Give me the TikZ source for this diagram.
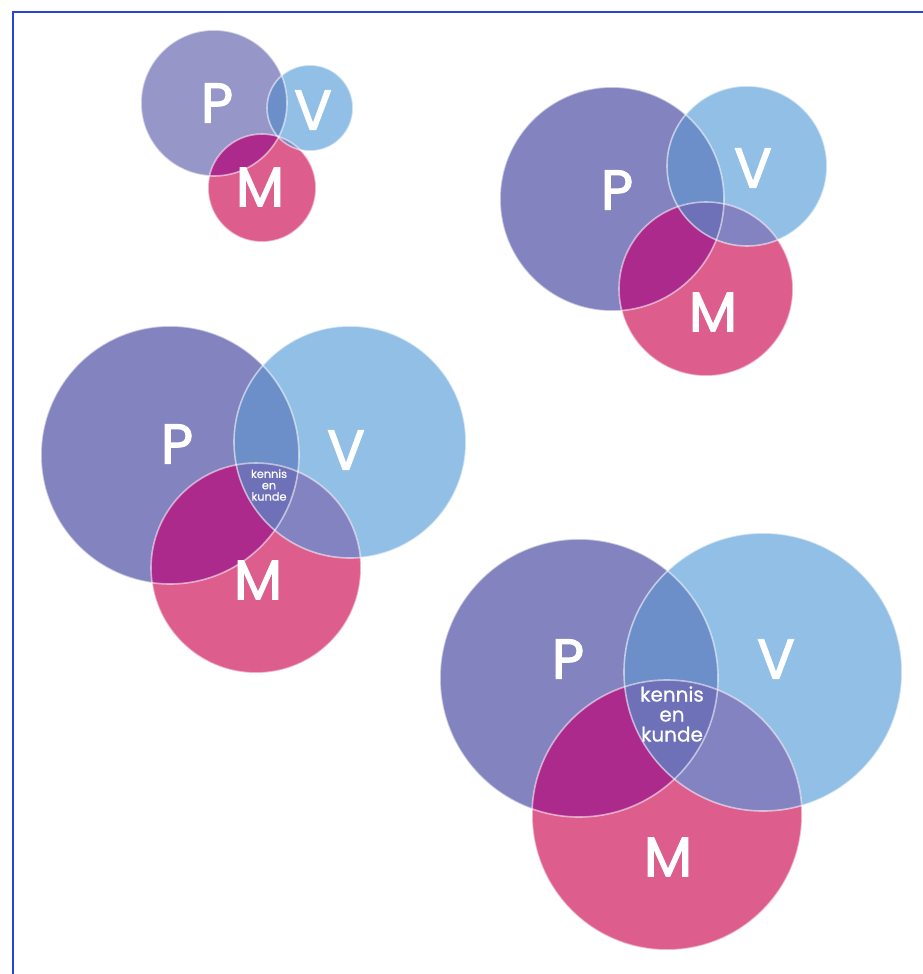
\documentclass[tikz,border=0pt]{standalone}
\usepackage{fontspec}
\setmainfont{Poppins}
\newfontfamily\pvmfont{Poppins}[FakeBold=2]
\newfontfamily\kkfont{Poppins}[FakeBold=0.6]
\definecolor{pcol}{HTML}{8383C0}
\definecolor{vcol}{HTML}{92BFE6}
\definecolor{mcol}{HTML}{DD5E8C}
\definecolor{pvcol}{HTML}{6D8FC9}
\definecolor{pmcol}{HTML}{AD2A8D}
\definecolor{vmcol}{HTML}{8383C2}
\definecolor{pvmcol}{HTML}{6E70B8}
\definecolor{framecol}{HTML}{2A40E0}
% one group of three circles: P (#1,#2,#3), V (#4,#5,#6), M (#7,#8,#9)
\newcommand{\pvmgroup}[9]{%
  \fill[pcol] (#1,#2) circle (#3);
  \fill[vcol] (#4,#5) circle (#6);
  \fill[mcol] (#7,#8) circle (#9);
  \begin{scope}
    \clip (#1,#2) circle (#3);
    \fill[pvcol] (#4,#5) circle (#6);
    \fill[pmcol] (#7,#8) circle (#9);
  \end{scope}
  \begin{scope}
    \clip (#4,#5) circle (#6);
    \fill[vmcol] (#7,#8) circle (#9);
    \clip (#1,#2) circle (#3);
    \fill[pvmcol] (#7,#8) circle (#9);
  \end{scope}
  \draw[rim] (#1,#2) circle (#3);
  \draw[rim] (#4,#5) circle (#6);
  \draw[rim] (#7,#8) circle (#9);
}
\begin{document}
\begin{tikzpicture}[x=0.75pt,y=-0.75pt]
  \tikzstyle{rim}=[white,opacity=0.55,line width=1.2pt]
  \tikzstyle{letter}=[text=white,inner sep=0pt,font=\pvmfont\fontsize{42}{42}\selectfont]
  \tikzstyle{kk}=[text=white,inner sep=0pt,align=center]
  \useasboundingbox (0,0) rectangle (923,974);
  \draw[framecol,line width=1.5pt] (923,12) -- (13,12) -- (13,974);
  % small group, top left
  \begin{scope}
    \colorlet{pcol}{pcol!85!white}
    \pvmgroup{214}{103}{73}{310}{108}{43}{262}{188}{54}
  \end{scope}
  \node[letter] (P1) at (217,103) {P};
  \node[letter] (V1) at (313,110) {V};
  \node[letter] (M1) at (260,187) {M};
  % top right
  \pvmgroup{612}{199}{112}{747}{166}{80}{706}{289}{87}
  \node[letter] (P2) at (617,190) {P};
  \node[letter] (V2) at (753,168) {V};
  \node[letter] (M2) at (713,312) {M};
  % middle left
  \pvmgroup{170}{455}{129}{350}{442}{116}{256}{568}{105}
  \node[letter] (P3) at (177,444) {P};
  \node[letter] (V3) at (346,450) {V};
  \node[letter] (M3) at (258,580) {M};
  \node[kk,font=\kkfont\fontsize{8.5}{8.5}\selectfont] (K3) at (269,485) {kennis\\en\\kunde};
  % bottom right
  \pvmgroup{579}{678}{139}{763}{672}{139}{667}{815}{135}
  \node[letter] (P4) at (568,659) {P};
  \node[letter] (V4) at (776,659) {V};
  \node[letter] (M4) at (668,857) {M};
  \node[kk,font=\kkfont\fontsize{15}{15}\selectfont] (K4) at (672,714) {kennis\\en\\kunde};
\end{tikzpicture}
\end{document}
